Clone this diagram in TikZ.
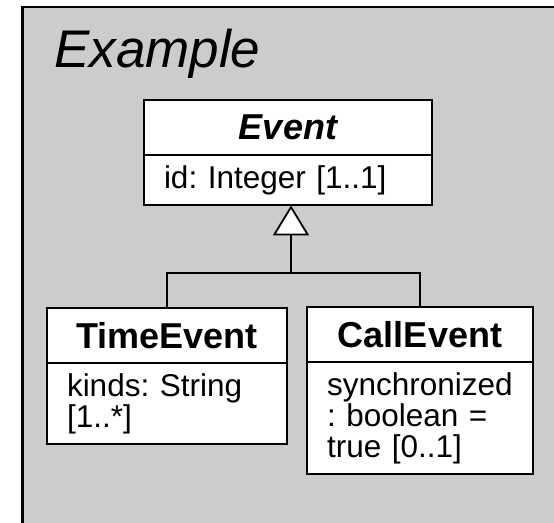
\documentclass[tikz,border=0pt]{standalone}
\usepackage{fontspec}
\setmainfont{Liberation Sans}
\usetikzlibrary{arrows.meta,positioning}
\definecolor{pkggray}{HTML}{CCCCCC}
\frenchspacing

\begin{document}
\begin{tikzpicture}[x=1pt,y=-1pt]
  % \draw[help lines,step=10] (0,0) grid (554,522);
  \useasboundingbox (0,0) rectangle (554,522);
  \clip (0,0) rectangle (554,522);
  \fill[pkggray] (22.5,7) rectangle (560,530);
  \draw[line width=2.4pt] (22.5,530) -- (22.5,7) -- (560,7);
  \node[anchor=base west,inner sep=0pt,font=\fontsize{53}{53}\selectfont\itshape] (pkg_title) at (54,67) {Example};

  \begin{scope}[every node/.style={draw=black,fill=white,line width=2pt,inner sep=0pt,outer sep=0pt},
    classname/.style={minimum height=55pt,anchor=north west,font=\fontsize{36}{36}\selectfont\bfseries},
    classattr/.style={anchor=north,inner xsep=20pt,inner ysep=10.5pt,align=left,
      font=\fontsize{31.5}{31}\selectfont\frenchspacing},
    gen/.style={line width=1.8pt}]
    \node[classname,minimum width=288pt] (event) at (144,100) {\itshape Event};
    \node[classattr,text width=248pt] (event_attr) at (event.south) {id: Integer [1..1]};

    \node[classname,minimum width=240pt] (time) at (47,308) {TimeEvent};
    \node[classattr,text width=200pt] (time_attr) at (time.south) {kinds: String\\ {[1..*]}};

    \node[classname,minimum width=226pt] (call) at (307,307) {CallEvent};
    \node[classattr,text width=186pt] (call_attr) at (call.south) {synchronized\\ : boolean =\\ true [0..1]};

    \coordinate (join) at (291,273);
    \draw[gen] (time.north) |- (join) -| (call.north);
    \draw[gen,-{Triangle[fill=white,length=30pt,width=36pt]}] (join) -- (join |- event_attr.south);
  \end{scope}
\end{tikzpicture}
\end{document}
